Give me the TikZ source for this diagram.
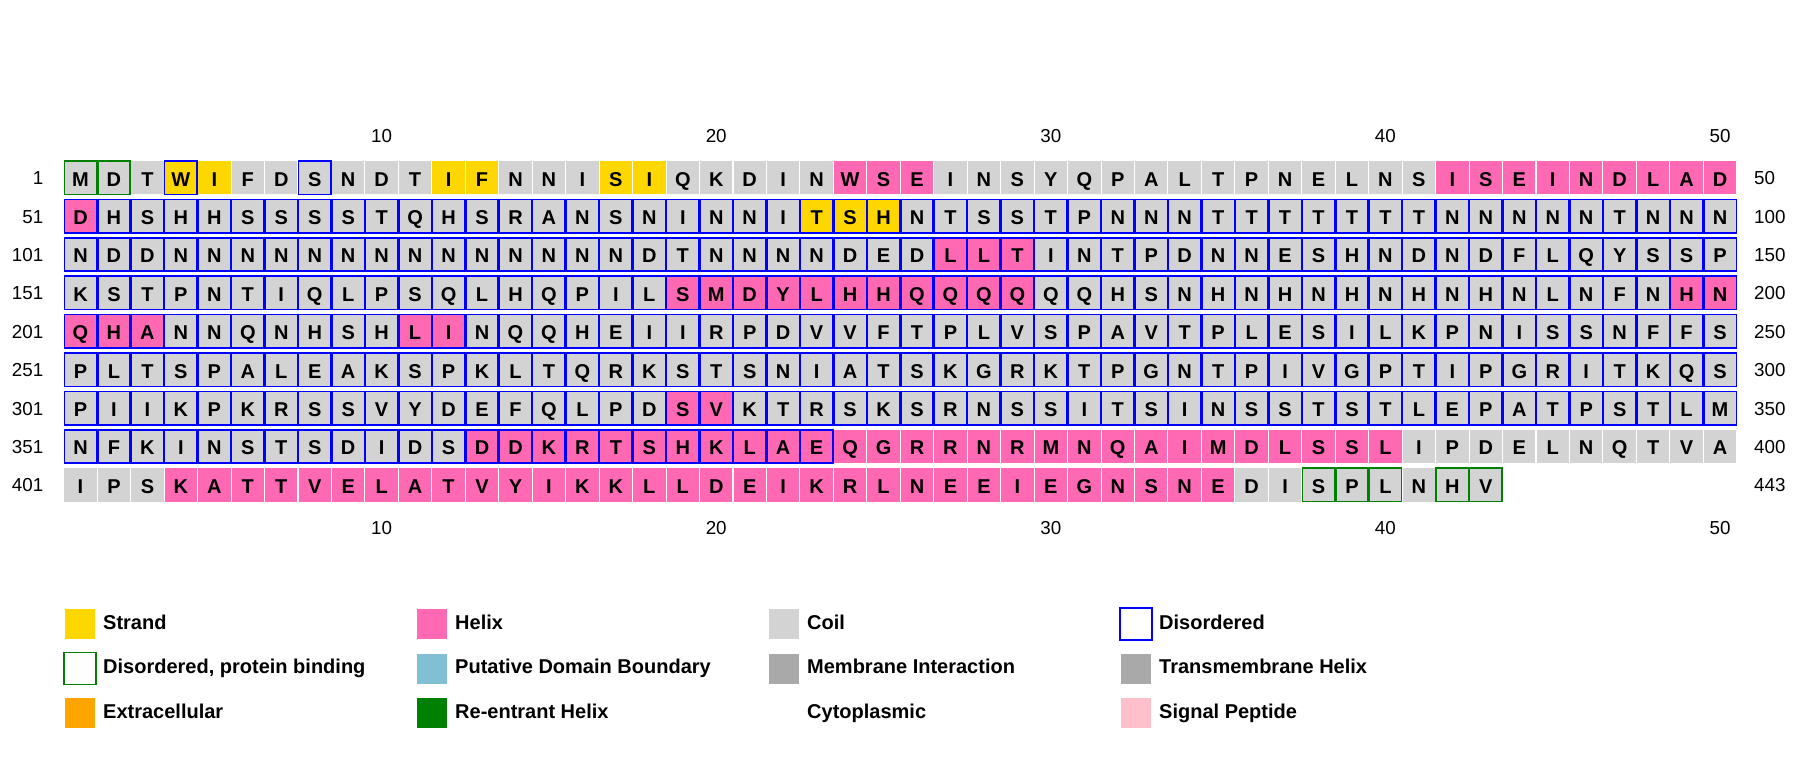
\documentclass[tikz,border=0pt]{standalone}
\usepackage{fontspec}
\setmainfont{Liberation Sans}
\definecolor{strandc}{HTML}{FFD700}
\definecolor{helixc}{HTML}{FF69B4}
\definecolor{coilc}{HTML}{D3D3D3}
\definecolor{disc}{HTML}{0000FF}
\definecolor{dpbc}{HTML}{008000}
\definecolor{pdbc}{HTML}{80BFD4}
\definecolor{memc}{HTML}{A9A9A9}
\definecolor{extc}{HTML}{FFA500}
\definecolor{reentc}{HTML}{008000}
\definecolor{sigc}{HTML}{FFC0CB}
\tikzset{
  res/.style={minimum width=32.4pt, minimum height=33.4pt, inner sep=0pt, outer sep=0pt,
    font=\fontsize{20}{24}\selectfont\bfseries, text height=16.6pt, text depth=0pt},
  helix/.style={fill=helixc},
  strand/.style={fill=strandc},
  coil/.style={fill=coilc},
  dis/.style={draw=disc, line width=1.5pt},
  dpb/.style={draw=dpbc, line width=1.5pt},
  plain/.style={},
  cellkind/.style={#1},
  num/.style={font=\fontsize{18.8}{22}\selectfont, inner sep=0pt},
  legbox/.style={minimum width=30pt, minimum height=30pt, inner sep=0pt, outer sep=0pt},
  legline/.style={minimum width=32pt, minimum height=32pt, inner sep=0pt, outer sep=0pt, fill=white, line width=1.7pt},
  legtext/.style={font=\fontsize{20}{24}\selectfont\bfseries, inner sep=0pt, anchor=base west},
}
\begin{document}
\begin{tikzpicture}[x=1pt,y=-1pt]
\useasboundingbox (0,0) rectangle (1800,760);
\fill[white] (0,0) rectangle (1800,760);
\foreach \seq [count=\r] in {
 {M,D,T,W,I,F,D,S,N,D,T,I,F,N,N,I,S,I,Q,K,D,I,N,W,S,E,I,N,S,Y,Q,P,A,L,T,P,N,E,L,N,S,I,S,E,I,N,D,L,A,D},
 {D,H,S,H,H,S,S,S,S,T,Q,H,S,R,A,N,S,N,I,N,N,I,T,S,H,N,T,S,S,T,P,N,N,N,T,T,T,T,T,T,T,N,N,N,N,N,T,N,N,N},
 {N,D,D,N,N,N,N,N,N,N,N,N,N,N,N,N,N,D,T,N,N,N,N,D,E,D,L,L,T,I,N,T,P,D,N,N,E,S,H,N,D,N,D,F,L,Q,Y,S,S,P},
 {K,S,T,P,N,T,I,Q,L,P,S,Q,L,H,Q,P,I,L,S,M,D,Y,L,H,H,Q,Q,Q,Q,Q,Q,H,S,N,H,N,H,N,H,N,H,N,H,N,L,N,F,N,H,N},
 {Q,H,A,N,N,Q,N,H,S,H,L,I,N,Q,Q,H,E,I,I,R,P,D,V,V,F,T,P,L,V,S,P,A,V,T,P,L,E,S,I,L,K,P,N,I,S,S,N,F,F,S},
 {P,L,T,S,P,A,L,E,A,K,S,P,K,L,T,Q,R,K,S,T,S,N,I,A,T,S,K,G,R,K,T,P,G,N,T,P,I,V,G,P,T,I,P,G,R,I,T,K,Q,S},
 {P,I,I,K,P,K,R,S,S,V,Y,D,E,F,Q,L,P,D,S,V,K,T,R,S,K,S,R,N,S,S,I,T,S,I,N,S,S,T,S,T,L,E,P,A,T,P,S,T,L,M},
 {N,F,K,I,N,S,T,S,D,I,D,S,D,D,K,R,T,S,H,K,L,A,E,Q,G,R,R,N,R,M,N,Q,A,I,M,D,L,S,S,L,I,P,D,E,L,N,Q,T,V,A},
 {I,P,S,K,A,T,T,V,E,L,A,T,V,Y,I,K,K,L,L,D,E,I,K,R,L,N,E,E,I,E,G,N,S,N,E,D,I,S,P,L,N,H,V}} {
  \foreach \L [count=\c] in \seq {
    \pgfmathtruncatemacro\n{(\r-1)*50+\c}
    \pgfmathtruncatemacro\isH{((\n>=24)&&(\n<=26))||((\n>=42)&&(\n<=51))||((\n>=127)&&(\n<=129))||((\n>=169)&&(\n<=179))||((\n>=199)&&(\n<=203))||((\n>=211)&&(\n<=212))||((\n>=319)&&(\n<=320))||((\n>=363)&&(\n<=390))||((\n>=404)&&(\n<=435))}
    \pgfmathtruncatemacro\isE{(\n==4)||(\n==5)||(\n==12)||(\n==13)||(\n==17)||(\n==18)||((\n>=73)&&(\n<=75))}
    \pgfmathtruncatemacro\isD{(\n==4)||(\n==8)||((\n>=51)&&(\n<=373))}
    \pgfmathtruncatemacro\isG{(\n<=2)||((\n>=438)&&(\n<=440))||(\n>=442)}
    \ifnum\isH=1 \def\ssst{helix}\else\ifnum\isE=1 \def\ssst{strand}\else\def\ssst{coil}\fi\fi
    \ifnum\isD=1 \def\bd{dis}\else\ifnum\isG=1 \def\bd{dpb}\else\def\bd{plain}\fi\fi
    \node[res, cellkind/.expanded={\ssst,\bd}] (r\n) at ({80.5+(\c-1)*33.46},{177.7+(\r-1)*38.4}) {\L};
  }
}
\foreach \lab/\rl [count=\r] in {1/50,51/100,101/150,151/200,201/250,251/300,301/350,351/400,401/443} {
  \node[num, anchor=base east] (L\r) at (43.5,{184.7+(\r-1)*38.4}) {\lab};
  \node[num, anchor=base west] (R\r) at (1754,{184.7+(\r-1)*38.4}) {\rl};
}
\foreach \k in {10,20,30,40,50} {
  \node[num, anchor=base] (T\k) at ({80.5+(\k-1)*33.46},142.6) {\k};
  \node[num, anchor=base] (B\k) at ({80.5+(\k-1)*33.46},534) {\k};
}
% legend
\node[legbox, fill=strandc] (k1) at (80,624) {};
\node[legtext] (t1) at (103,629.3) {Strand};
\node[legbox, fill=helixc] (k2) at (432,624) {};
\node[legtext] (t2) at (455,629.3) {Helix};
\node[legbox, fill=coilc] (k3) at (784,624) {};
\node[legtext] (t3) at (807,629.3) {Coil};
\node[legline, draw=disc] (k4) at (1136,624) {};
\node[legtext] (t4) at (1159,629.3) {Disordered};
\node[legline, draw=dpbc] (k5) at (80,668.5) {};
\node[legtext] (t5) at (103,673.8) {Disordered, protein binding};
\node[legbox, fill=pdbc] (k6) at (432,668.5) {};
\node[legtext] (t6) at (455,673.8) {Putative Domain Boundary};
\node[legbox, fill=memc] (k7) at (784,668.5) {};
\node[legtext] (t7) at (807,673.8) {Membrane Interaction};
\node[legbox, fill=memc] (k8) at (1136,668.5) {};
\node[legtext] (t8) at (1159,673.8) {Transmembrane Helix};
\node[legbox, fill=extc] (k9) at (80,713) {};
\node[legtext] (t9) at (103,718.3) {Extracellular};
\node[legbox, fill=reentc] (k10) at (432,713) {};
\node[legtext] (t10) at (455,718.3) {Re-entrant Helix};
\node[legtext] (t11) at (807,718.3) {Cytoplasmic};
\node[legbox, fill=sigc] (k12) at (1136,713) {};
\node[legtext] (t12) at (1159,718.3) {Signal Peptide};
\end{tikzpicture}
\end{document}
